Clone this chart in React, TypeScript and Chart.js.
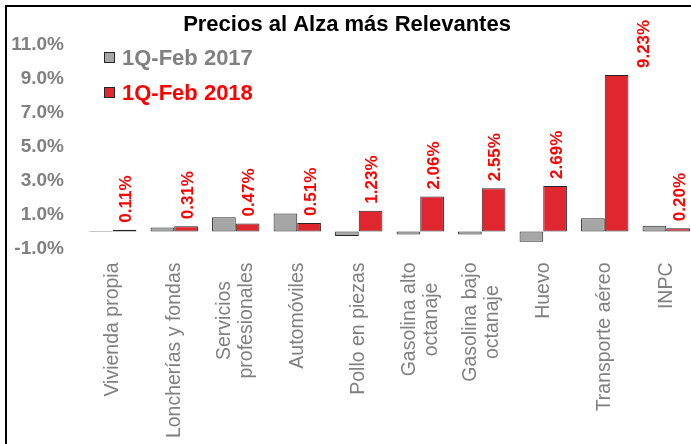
import React, { useEffect, useRef } from 'react';
import { Chart, registerables } from 'chart.js';

Chart.register(...registerables);

const categories: string[][] = [
  ['Vivienda propia'],
  ['Loncherías y fondas'],
  ['Servicios', 'profesionales'],
  ['Automóviles'],
  ['Pollo en piezas'],
  ['Gasolina alto', 'octanaje'],
  ['Gasolina bajo', 'octanaje'],
  ['Huevo'],
  ['Transporte aéreo'],
  ['INPC'],
];
const seriesLabels = ['1Q-Feb 2017', '1Q-Feb 2018'];
const values2017 = [0.03, 0.24, 0.84, 1.07, -0.27, -0.17, -0.17, -0.6, 0.78, 0.34];
const values2018 = [0.11, 0.31, 0.47, 0.51, 1.23, 2.06, 2.55, 2.69, 9.23, 0.2];
const yTickValues = [-1, 1, 3, 5, 7, 9, 11];
const titleText = 'Precios al Alza más Relevantes';

const FONT = '"Liberation Sans", Arial, sans-serif';
const GRAY_TEXT = '#808080';
const RED_TEXT = '#ff0000';
const GRAY_BAR = '#a6a6a6';
const RED_BAR = '#e0262f';
const EDGE = '#262626';
const legendTextColors = [GRAY_TEXT, RED_TEXT];

const insideLegend = {
  id: 'insideLegend',
  afterDraw(chart: any) {
    const { ctx, chartArea } = chart;
    ctx.save();
    chart.data.datasets.forEach((ds: any, i: number) => {
      const cy = chartArea.top + 12.5 + i * 35;
      const bx = chartArea.left + 22;
      ctx.fillStyle = ds.backgroundColor;
      ctx.fillRect(bx, cy - 5.5, 11, 11);
      ctx.strokeStyle = EDGE;
      ctx.lineWidth = 1;
      ctx.strokeRect(bx + 0.5, cy - 5, 10, 10);
      ctx.fillStyle = legendTextColors[i];
      ctx.font = `bold 22px ${FONT}`;
      ctx.textBaseline = 'middle';
      ctx.textAlign = 'left';
      ctx.fillText(ds.label, bx + 18, cy + 1);
    });
    ctx.restore();
  },
};

// Category labels: rotated, with multi-line labels centred on the tick (as in the reference)
const centeredCategoryLabels = {
  id: 'centeredCategoryLabels',
  afterDraw(chart: any) {
    const { ctx, chartArea } = chart;
    const xScale = chart.scales.x;
    const lineH = 22;
    const top = chartArea.bottom + 14;
    ctx.save();
    ctx.font = `19.5px ${FONT}`;
    ctx.fillStyle = GRAY_TEXT;
    ctx.textBaseline = 'middle';
    ctx.textAlign = 'center';
    (chart.data.labels as string[][]).forEach((lines, i) => {
      const px = xScale.getPixelForTick(i);
      const maxW = Math.max(...lines.map((l) => ctx.measureText(l).width));
      const cy = top + maxW / 2;
      lines.forEach((line, j) => {
        const cx = px + (j - (lines.length - 1) / 2) * lineH;
        ctx.save();
        ctx.translate(cx, cy);
        ctx.rotate(-Math.PI / 2);
        ctx.fillText(line, 0, 0);
        ctx.restore();
      });
    });
    ctx.restore();
  },
};

const valueLabels = {
  id: 'valueLabels',
  afterDatasetsDraw(chart: any) {
    const { ctx, chartArea } = chart;
    const meta = chart.getDatasetMeta(1);
    ctx.save();
    ctx.font = `bold 17px ${FONT}`;
    ctx.fillStyle = RED_TEXT;
    ctx.textBaseline = 'middle';
    ctx.textAlign = 'left';
    meta.data.forEach((bar: any, i: number) => {
      const text = values2018[i].toFixed(2) + '%';
      const w = ctx.measureText(text).width;
      const p = bar.getProps(['x', 'y', 'base', 'width'], true);
      let x = p.x + 2;
      const yStart = Math.min(p.y, p.base) - 7;
      if (yStart - w < chartArea.top) x += p.width + 2;
      ctx.save();
      ctx.translate(x, yStart);
      ctx.rotate(-Math.PI / 2);
      ctx.fillText(text, 0, 0);
      ctx.restore();
    });
    ctx.restore();
  },
};

export default function App() {
  const ref = useRef<HTMLCanvasElement | null>(null);

  useEffect(() => {
    if (!ref.current) return;
    const chart = new Chart(ref.current, {
      type: 'bar',
      data: {
        labels: categories,
        datasets: [
          {
            label: seriesLabels[0],
            data: values2017,
            backgroundColor: GRAY_BAR,
            borderColor: EDGE,
            borderWidth: 1,
            borderSkipped: false,
            categoryPercentage: 0.77,
            barPercentage: 1,
          },
          {
            label: seriesLabels[1],
            data: values2018,
            backgroundColor: RED_BAR,
            borderColor: EDGE,
            borderWidth: 1,
            borderSkipped: false,
            categoryPercentage: 0.77,
            barPercentage: 1,
          },
        ],
      },
      options: {
        animation: false,
        responsive: false,
        maintainAspectRatio: false,
        devicePixelRatio: 1,
        layout: { padding: { left: 0, right: 0, top: 0, bottom: 0 } },
        plugins: {
          legend: { display: false },
          tooltip: { enabled: false },
          title: {
            display: true,
            text: titleText,
            color: '#000000',
            font: { family: FONT, size: 22, weight: 'bold', lineHeight: 1.2 },
            padding: { top: 12, bottom: 6.6 },
          },
        },
        scales: {
          x: {
            grid: { display: false, drawTicks: false, tickLength: 0 },
            border: { display: false },
            ticks: { display: false, autoSkip: false },
            afterFit(scale: any) {
              scale.height = 450 - 248.5;
            },
          },
          y: {
            min: -1,
            max: 11,
            grid: { display: false, drawTicks: false, tickLength: 0 },
            border: { display: false },
            afterBuildTicks(scale: any) {
              scale.ticks = yTickValues.map((v) => ({ value: v }));
            },
            ticks: {
              padding: 18,
              color: GRAY_TEXT,
              font: { family: FONT, size: 19, weight: 'bold' },
              callback: (v: any) => Number(v).toFixed(1) + '%',
            },
            afterFit(scale: any) {
              scale.width = 85;
            },
          },
        },
      },
      plugins: [valueLabels, centeredCategoryLabels, insideLegend],
    });
    return () => chart.destroy();
  }, []);

  return (
    <div
      style={{
        position: 'fixed',
        left: 0,
        top: 0,
        width: 691,
        height: 444,
        overflow: 'hidden',
        background: '#ffffff',
      }}
    >
      <div
        style={{
          position: 'absolute',
          left: 5,
          top: 5,
          width: 720,
          height: 460,
          border: '2px solid #000000',
          boxSizing: 'border-box',
        }}
      />
      <canvas
        ref={ref}
        width={700}
        height={450}
        style={{ position: 'absolute', left: -3, top: 0, width: 700, height: 450 }}
      />
    </div>
  );
}
